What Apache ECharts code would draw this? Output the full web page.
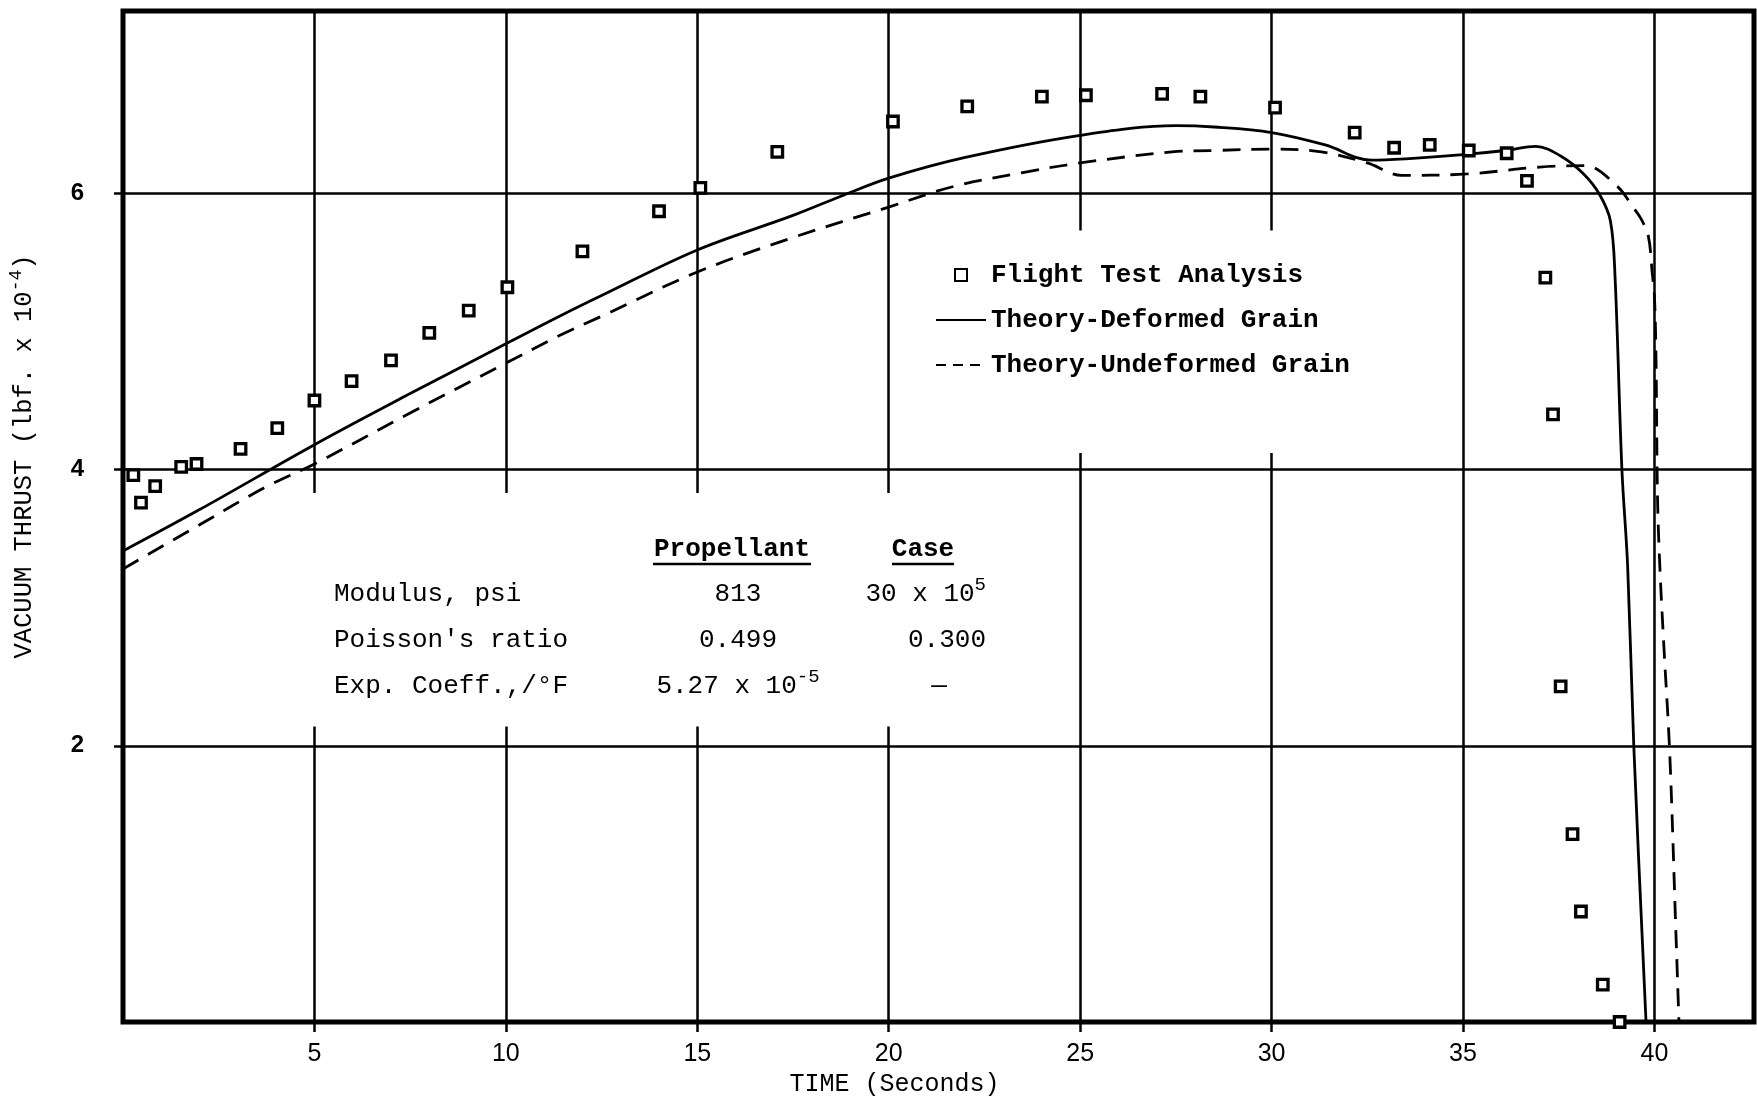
<!DOCTYPE html>
<html>
<head>
<meta charset="utf-8">
<script src="https://cdn.jsdelivr.net/npm/echarts@6/dist/echarts.min.js"></script>
<style>
html,body{margin:0;padding:0;background:#ffffff;}
#chart{width:1757px;height:1099px;}
</style>
</head>
<body>
<div id="chart"></div>
<script>
// ---- data ----
const seriesNames = ['Flight Test Analysis', 'Theory-Deformed Grain', 'Theory-Undeformed Grain'];

const flightTest = [
  [0.27, 3.96], [0.47, 3.76], [0.84, 3.88], [1.52, 4.02], [1.92, 4.04], [3.07, 4.15],
  [4.03, 4.30], [5.0, 4.50], [5.97, 4.64], [7.0, 4.79], [8.0, 4.99], [9.03, 5.15],
  [10.04, 5.32], [12.0, 5.58], [14.0, 5.87], [15.08, 6.04], [17.09, 6.30], [20.11, 6.52],
  [22.05, 6.63], [24.0, 6.70], [25.15, 6.71], [27.14, 6.72], [28.14, 6.70], [30.09, 6.62],
  [32.17, 6.44], [33.2, 6.33], [34.13, 6.35], [35.15, 6.31], [36.14, 6.29], [36.67, 6.09],
  [37.15, 5.39], [37.35, 4.40], [37.55, 2.43], [37.86, 1.36], [38.08, 0.80], [38.65, 0.27],
  [39.09, 0.0]
];

const deformed = [
  [0, 3.41], [2, 3.71], [5, 4.18], [7.5, 4.55], [10, 4.91], [11.4, 5.11], [12.5, 5.26],
  [15, 5.59], [17.5, 5.84], [18.85, 5.99], [20, 6.11], [22, 6.26], [25, 6.42], [27.5, 6.49],
  [28.5, 6.48], [30, 6.44], [31.4, 6.35], [32.6, 6.24], [33.5, 6.25], [35, 6.28],
  [36.1, 6.31], [36.9, 6.34], [37.55, 6.27], [38.15, 6.14], [38.57, 5.99], [38.85, 5.8],
  [38.97, 5.4], [39.15, 4.0], [39.3, 3.3], [39.46, 2.0], [39.78, 0]
];

const undeformed = [
  [0, 3.28], [2, 3.6], [3.77, 3.88], [5, 4.04], [7.5, 4.41], [10, 4.77], [11.4, 4.97],
  [12.5, 5.11], [15, 5.43], [17.5, 5.68], [20, 5.9], [21.7, 6.05], [23.5, 6.15], [25, 6.22],
  [27.4, 6.30], [28.5, 6.31], [30, 6.32], [31.3, 6.30], [32.5, 6.22], [33.4, 6.13],
  [35.1, 6.14], [37, 6.19], [38.2, 6.2], [39.03, 6.05], [39.44, 5.9], [39.64, 5.82],
  [39.84, 5.69], [39.94, 5.43], [40.0, 5.25], [40.04, 4.81], [40.08, 3.8], [40.14, 3.3],
  [40.25, 2.7], [40.4, 1.94], [40.56, 0.65], [40.64, 0]
];

const xTickValues = [5, 10, 15, 20, 25, 30, 35, 40];
const yTickValues = [2, 4, 6];

const xAxisTitle = 'TIME (Seconds)';
const yAxisTitle = 'VACUUM THRUST (lbf. x 10\u207B\u2074)';

const tableHeaders = ['Propellant', 'Case'];
const tableRows = [
  ['Modulus, psi', '813', '30 x 10\u2075'],
  ["Poisson's ratio", '0.499', '0.300'],
  ['Exp. Coeff.,/\u00B0F', '5.27 x 10\u207B\u2075', '\u2014']
];

// ---- helpers ----
const MONO = "'Liberation Mono', 'DejaVu Sans Mono', monospace";
const SANS = "'Liberation Sans', 'DejaVu Sans', sans-serif";
const SUP = {'\u2070':'0','\u00B9':'1','\u00B2':'2','\u00B3':'3','\u2074':'4','\u2075':'5','\u2076':'6','\u2077':'7','\u2078':'8','\u2079':'9','\u207B':'-'};
// turn unicode superscripts into rich-text tokens so they can be drawn larger
function toRich(str) {
  let out = '', buf = '', sup = '';
  for (const ch of str) {
    if (SUP[ch] !== undefined) {
      if (buf) { out += '{n|' + buf + '}'; buf = ''; }
      sup += SUP[ch];
    } else {
      if (sup) { out += '{s|' + sup + '}'; sup = ''; }
      buf += ch;
    }
  }
  if (buf) out += '{n|' + buf + '}';
  if (sup) out += '{s|' + sup + '}';
  return out;
}

const chart = echarts.init(document.getElementById('chart'), null, {renderer: 'canvas'});

const gridLeft = 123, gridTop = 11, gridWidth = 1631, gridHeight = 1011;

const tableRich = {
  n: {fontFamily: MONO, fontSize: 26, lineHeight: 32, verticalAlign: 'bottom', color: '#000'},
  s: {fontFamily: MONO, fontSize: 19, lineHeight: 16, verticalAlign: 'top', color: '#000'}
};

const graphics = [];
const headerX = [732, 923];
const headerUnder = [[653, 811], [892, 954]];
tableHeaders.forEach((h, i) => {
  graphics.push({
    type: 'text', x: headerX[i], y: 549, z: 50,
    style: {text: h, font: 'bold 26px ' + MONO, fill: '#000', align: 'center', verticalAlign: 'middle'}
  });
  graphics.push({
    type: 'line', z: 50,
    shape: {x1: headerUnder[i][0], y1: 564, x2: headerUnder[i][1], y2: 564},
    style: {stroke: '#000', lineWidth: 2.5}
  });
});
const rowY = [591, 637, 683];
tableRows.forEach((row, r) => {
  row.forEach((cell, c) => {
    let x, align;
    if (c === 0) { x = 334; align = 'left'; }
    else if (c === 1) { x = 738; align = 'center'; }
    else if (cell === '\u2014') { x = 939; align = 'center'; }
    else { x = 986; align = 'right'; }
    graphics.push({
      type: 'text', z: 50, x: x, y: rowY[r],
      style: {
        text: toRich(cell), rich: tableRich,
        align: align, verticalAlign: 'middle', fill: '#000'
      }
    });
  });
});

const option = {
  backgroundColor: '#ffffff',
  animation: false,
  grid: {
    left: gridLeft, top: gridTop, width: gridWidth, height: gridHeight,
    containLabel: false, outerBoundsMode: 'none',
    show: true, borderColor: '#000', borderWidth: 5, backgroundColor: 'transparent'
  },
  legend: {
    data: [
      {name: seriesNames[0], icon: 'path://M0,0L10,0L10,10L0,10Z'},
      {name: seriesNames[1], itemStyle: {opacity: 0}},
      {name: seriesNames[2], itemStyle: {opacity: 0}, lineStyle: {type: [10, 7]}}
    ],
    orient: 'vertical',
    left: 930, top: 255,
    itemWidth: 50, itemHeight: 12, itemGap: 15,
    symbolKeepAspect: true,
    textStyle: {fontFamily: MONO, fontSize: 26, fontWeight: 'bold', color: '#000', lineHeight: 30},
    selectedMode: false
  },
  xAxis: {
    type: 'value', min: 0, max: 42.6, interval: 5,
    name: xAxisTitle, nameLocation: 'middle', nameGap: 44,
    nameTextStyle: {fontFamily: MONO, fontSize: 25, color: '#000', padding: [0, 88, 0, 0]},
    axisLine: {show: false},
    axisTick: {show: true, length: 10, lineStyle: {color: '#000', width: 2.5}, customValues: xTickValues},
    axisLabel: {
      fontFamily: SANS, fontSize: 25, color: '#000', margin: 20,
      customValues: xTickValues,
      formatter: v => (xTickValues.indexOf(v) >= 0 ? String(v) : '')
    },
    splitLine: {show: true, lineStyle: {color: '#000', width: 2.5}}
  },
  yAxis: {
    type: 'value', min: 0, max: 7.32, interval: 2,
    name: toRich(yAxisTitle), nameLocation: 'middle', nameRotate: 90, nameGap: 86,
    nameTextStyle: {
      color: '#000', padding: [0, 0, 0, 120],
      rich: {
        n: {fontFamily: MONO, fontSize: 25.5, lineHeight: 30, verticalAlign: 'bottom', color: '#000'},
        s: {fontFamily: MONO, fontSize: 18, lineHeight: 14, verticalAlign: 'top', color: '#000'}
      }
    },
    axisLine: {show: false},
    axisTick: {show: true, length: 9, lineStyle: {color: '#000', width: 2.5}, customValues: yTickValues},
    axisLabel: {
      fontFamily: SANS, fontSize: 24, fontWeight: 'bold', color: '#000', margin: 39,
      customValues: yTickValues,
      formatter: v => (yTickValues.indexOf(v) >= 0 ? String(v) : '')
    },
    splitLine: {show: true, lineStyle: {color: '#000', width: 2.5}}
  },
  series: [
    {
      // white areas where the original grid lines are interrupted by the annotations
      name: 'gaps', type: 'scatter', data: [], z: 1, silent: true,
      markArea: {
        silent: true,
        label: {show: false},
        itemStyle: {color: '#ffffff', opacity: 1, borderWidth: 0},
        data: [
          [{coord: [4.5, 2.14]}, {coord: [21, 3.83]}],
          [{coord: [23, 4.12]}, {coord: [31, 5.73]}]
        ]
      }
    },
    {
      name: seriesNames[1], type: 'line', data: deformed, z: 3,
      smooth: 0.35, showSymbol: false, symbol: 'none',
      lineStyle: {color: '#000', width: 2.8, type: 'solid'},
      itemStyle: {color: '#000'}
    },
    {
      name: seriesNames[2], type: 'line', data: undeformed, z: 3,
      smooth: 0.35, showSymbol: false, symbol: 'none',
      lineStyle: {color: '#000', width: 2.8, type: [18, 11]},
      itemStyle: {color: '#000'}
    },
    {
      name: seriesNames[0], type: 'scatter', data: flightTest, z: 4,
      symbol: 'rect', symbolSize: 10.5,
      itemStyle: {color: '#ffffff', borderColor: '#000', borderWidth: 3.3, opacity: 1}
    }
  ],
  graphic: graphics
};

chart.setOption(option);
</script>
</body>
</html>
